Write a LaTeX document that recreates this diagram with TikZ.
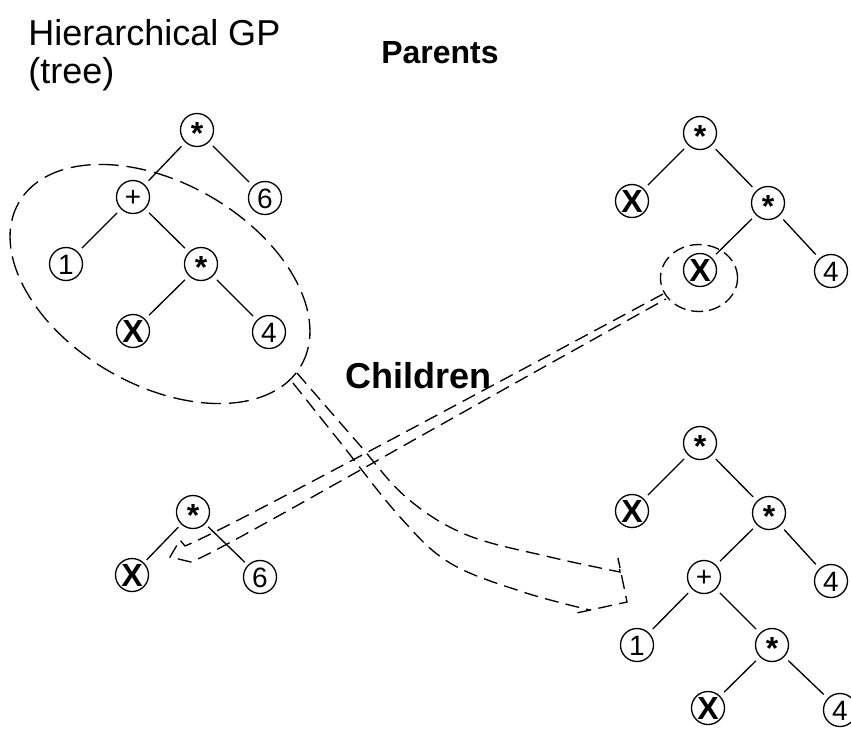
\documentclass[tikz,border=0pt]{standalone}
\usepackage{fontspec}
\setmainfont{Liberation Sans}
\begin{document}
\begin{tikzpicture}[x=0.75pt,y=-0.75pt,
  tn/.style={circle, draw, line width=1pt, minimum size=24.75pt, inner sep=0pt,
             font=\fontsize{21}{21}\selectfont, text height=15pt, text depth=0pt},
  tx/.style={tn, font=\fontsize{24}{24}\selectfont\bfseries, text height=17.2pt},
  ts/.style={tn, font=\fontsize{24}{24}\selectfont\bfseries, text height=21pt},
  tp/.style={tn, font=\fontsize{21}{21}\selectfont, text height=14.5pt},
  edge/.style={line width=1pt, shorten <=4pt, shorten >=4pt},
  seldash/.style={line width=1pt, dash pattern=on 15pt off 6pt},
  arrdash/.style={line width=1pt, dash pattern=on 10.5pt off 5.5pt, line join=miter},
  ttl/.style={anchor=base west, inner sep=0pt, font=\fontsize{27}{27}\selectfont},
  hdr/.style={anchor=base west, inner sep=0pt, font=\fontsize{24}{24}\selectfont\bfseries},
  hdr2/.style={anchor=base west, inner sep=0pt, font=\fontsize{27}{27}\selectfont\bfseries}]
\useasboundingbox (0,0) rectangle (851,729);

% titles
\node[ttl] (t1) at (28,45) {Hierarchical GP};
\node[ttl] (t2) at (28,83) {(tree)};
\node[hdr] (par) at (381,63) {Parents};
\node[hdr2] (chi) at (345,388) {Children};

% left parent tree
\node[ts] (lp1) at (197,130) {*};
\node[tp] (lp2) at (133,197) {+};
\node[tn] (lp3) at (265,198) {6};
\node[tn] (lp4) at (66,264) {1};
\node[ts] (lp5) at (201,264) {*};
\node[tx] (lp6) at (133,331) {X};
\node[tn] (lp7) at (269,332) {4};
\draw[edge] (lp1) -- (lp2);
\draw[edge] (lp1) -- (lp3);
\draw[edge] (lp2) -- (lp4);
\draw[edge] (lp2) -- (lp5);
\draw[edge] (lp5) -- (lp6);
\draw[edge] (lp5) -- (lp7);

% right parent tree
\node[ts] (rp1) at (700,133) {*};
\node[tx] (rp2) at (632,201) {X};
\node[ts] (rp3) at (768,203) {*};
\node[tx] (rp4) at (700,270) {X};
\node[tn] (rp5) at (831,271) {4};
\draw[edge] (rp1) -- (rp2);
\draw[edge] (rp1) -- (rp3);
\draw[edge] (rp3) -- (rp4);
\draw[edge] (rp3) -- (rp5);

% left child tree
\node[ts] (lc1) at (193,512) {*};
\node[tx] (lc2) at (132,575) {X};
\node[tn] (lc3) at (260,577) {6};
\draw[edge, shorten <=3pt, shorten >=3pt] (lc1) -- (lc2);
\draw[edge, shorten <=3pt, shorten >=3pt] (lc1) -- (lc3);

% right child tree
\node[ts] (rc1) at (700,443) {*};
\node[tx] (rc2) at (632,511) {X};
\node[ts] (rc3) at (769,513) {*};
\node[tp] (rc4) at (704,577) {+};
\node[tn] (rc5) at (831,581) {4};
\node[tn] (rc6) at (637,645) {1};
\node[ts] (rc7) at (772,645) {*};
\node[tx] (rc8) at (708,708) {X};
\node[tn] (rc9) at (840,710) {4};
\draw[edge] (rc1) -- (rc2);
\draw[edge] (rc1) -- (rc3);
\draw[edge] (rc3) -- (rc4);
\draw[edge] (rc3) -- (rc5);
\draw[edge] (rc4) -- (rc6);
\draw[edge] (rc4) -- (rc7);
\draw[edge] (rc7) -- (rc8);
\draw[edge] (rc7) -- (rc9);

% selection outlines
\draw[seldash, rotate around={-30:(160,284)}] (160,284) ellipse [x radius=122.25pt, y radius=75.75pt];
\draw[line width=1pt, dash pattern=on 9pt off 4.5pt] (699,278) ellipse [x radius=28.9pt, y radius=25.1pt];

% arrow 1: subtree of left parent -> right child
\draw[arrdash] plot[smooth, tension=0.6] coordinates {(297,373) (357,442) (407,498) (467,535) (550,557) (620,572)}
   -- (618,558) -- (627,602) -- (572,614);
\draw[arrdash] plot[smooth, tension=0.6] coordinates {(293,383) (340,442) (400,517) (450,563) (523,592) (590,610)};

% arrow 2: X of right parent -> left child
\draw[arrdash] (663,294) .. controls (378,447) and (219,532) .. (185,546)
   -- (180,540) -- (170,557) -- (191,562)
   .. controls (222,550) and (381,457) .. (666,299);
\end{tikzpicture}
\end{document}
